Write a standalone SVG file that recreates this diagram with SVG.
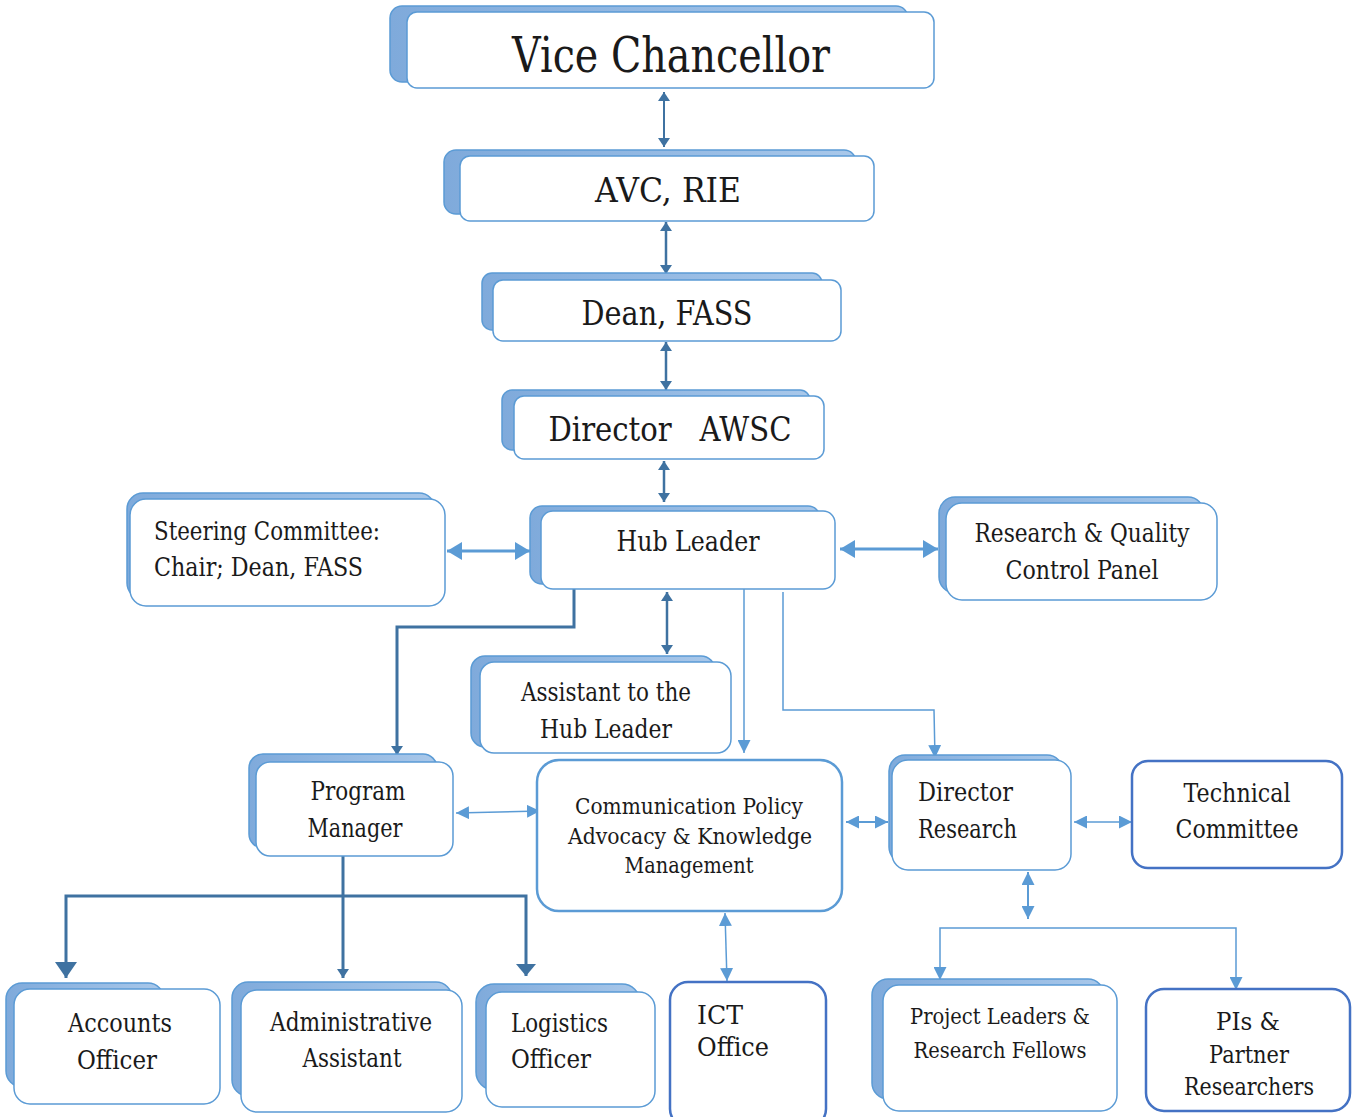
<svg xmlns="http://www.w3.org/2000/svg" width="1360" height="1117" viewBox="0 0 1360 1117">
<defs>
<linearGradient id="sg" x1="0" y1="0" x2="1" y2="0">
<stop offset="0" stop-color="#7faadb"/><stop offset="1" stop-color="#a9c8ea"/>
</linearGradient>
<marker id="md" viewBox="0 0 9 12" refX="9" refY="6" markerWidth="9" markerHeight="12" markerUnits="userSpaceOnUse" orient="auto-start-reverse"><path d="M0,0 L9,6 L0,12 z" fill="#3f72a1"/></marker>
<marker id="mdb" viewBox="0 0 16 22" refX="16" refY="11" markerWidth="16" markerHeight="22" markerUnits="userSpaceOnUse" orient="auto-start-reverse"><path d="M0,0 L16,11 L0,22 z" fill="#3f72a1"/></marker>
<marker id="mdm" viewBox="0 0 12 20" refX="12" refY="10" markerWidth="12" markerHeight="20" markerUnits="userSpaceOnUse" orient="auto-start-reverse"><path d="M0,0 L12,10 L0,20 z" fill="#3f72a1"/></marker>
<marker id="ml" viewBox="0 0 15 18" refX="15" refY="9" markerWidth="15" markerHeight="18" markerUnits="userSpaceOnUse" orient="auto-start-reverse"><path d="M0,0 L15,9 L0,18 z" fill="#5b9bd5"/></marker>
<marker id="mls" viewBox="0 0 13 13" refX="13" refY="6.5" markerWidth="13" markerHeight="13" markerUnits="userSpaceOnUse" orient="auto-start-reverse"><path d="M0,0 L13,6.5 L0,13 z" fill="#5b9bd5"/></marker>
</defs>
<style>
.sh{fill:url(#sg);stroke:#5b9bd5;stroke-width:1.5}
.bx{fill:#fff;stroke:#5b9bd5;stroke-width:1.5}
.bxl{fill:#fff;stroke:#5b9bd5;stroke-width:2.5}
.bxd{fill:#fff;stroke:#4472c4;stroke-width:2.5}
text{fill:#1a1a1a;font-family:"DejaVu Serif",serif}
.c{text-anchor:middle}
.dk{stroke:#3f72a1;fill:none}
.lt{stroke:#5b9bd5;fill:none}
</style>

<g id="connectors">
<line class="dk" x1="664" y1="92" x2="664" y2="147" stroke-width="2" marker-start="url(#md)" marker-end="url(#md)"/>
<line class="dk" x1="666" y1="222" x2="666" y2="274" stroke-width="2.5" marker-start="url(#md)" marker-end="url(#md)"/>
<line class="dk" x1="666" y1="342" x2="666" y2="390" stroke-width="2.5" marker-start="url(#md)" marker-end="url(#md)"/>
<line class="dk" x1="664" y1="461" x2="664" y2="502" stroke-width="2.5" marker-start="url(#md)" marker-end="url(#md)"/>
<line class="lt" x1="447" y1="551" x2="530" y2="551" stroke-width="3" marker-start="url(#ml)" marker-end="url(#ml)"/>
<line class="lt" x1="840" y1="549" x2="938" y2="549" stroke-width="3" marker-start="url(#ml)" marker-end="url(#ml)"/>
<line class="dk" x1="667" y1="592" x2="667" y2="654" stroke-width="2.5" marker-start="url(#md)" marker-end="url(#md)"/>
<polyline class="dk" points="574,589 574,627 397,627 397,755" stroke-width="3" marker-end="url(#md)"/>
<line class="lt" x1="744" y1="589" x2="744" y2="753" stroke-width="1.5" marker-end="url(#mls)"/>
<polyline class="lt" points="783,592 783,710 934,710 935,758" stroke-width="1.5" marker-end="url(#mls)"/>
<line class="lt" x1="456" y1="813" x2="540" y2="811" stroke-width="1.5" marker-start="url(#mls)" marker-end="url(#mls)"/>
<line class="lt" x1="846" y1="822" x2="888" y2="822" stroke-width="2" marker-start="url(#mls)" marker-end="url(#mls)"/>
<line class="lt" x1="1074" y1="822" x2="1132" y2="822" stroke-width="1.5" marker-start="url(#mls)" marker-end="url(#mls)"/>
<line class="lt" x1="1028" y1="872" x2="1028" y2="919" stroke-width="2" marker-start="url(#mls)" marker-end="url(#mls)"/>
<polyline class="lt" points="940,980 940,928 1236,928 1236,990" stroke-width="1.5" marker-start="url(#mls)" marker-end="url(#mls)"/>
<line class="lt" x1="725" y1="913" x2="727" y2="981" stroke-width="1.5" marker-start="url(#mls)" marker-end="url(#mls)"/>
<line class="dk" x1="343" y1="856" x2="343" y2="978" stroke-width="3" marker-end="url(#md)"/>
<polyline class="dk" points="66,978 66,896 526,896 526,976" stroke-width="3" marker-start="url(#mdb)" marker-end="url(#mdm)"/>
</g>

<g id="vice-chancellor">
<rect class="sh" x="390" y="6" width="518" height="76" rx="12"/>
<rect class="bx" x="407" y="12" width="527" height="76" rx="10"/>
<text class="c" x="671" y="72" font-size="48" textLength="318" lengthAdjust="spacingAndGlyphs">Vice Chancellor</text>
</g>
<g id="avc-rie">
<rect class="sh" x="444" y="150" width="412" height="64" rx="12"/>
<rect class="bx" x="460" y="156" width="414" height="65" rx="10"/>
<text class="c" x="668" y="202" font-size="34" textLength="146" lengthAdjust="spacingAndGlyphs">AVC, RIE</text>
</g>
<g id="dean-fass">
<rect class="sh" x="482" y="273" width="340" height="57" rx="10"/>
<rect class="bx" x="493" y="280" width="348" height="61" rx="10"/>
<text class="c" x="667" y="325" font-size="34" textLength="171" lengthAdjust="spacingAndGlyphs">Dean, FASS</text>
</g>
<g id="director-awsc">
<rect class="sh" x="502" y="390" width="308" height="60" rx="10"/>
<rect class="bx" x="514" y="396" width="310" height="63" rx="10"/>
<text class="c" x="670" y="441" font-size="34" xml:space="preserve" textLength="243" lengthAdjust="spacingAndGlyphs">Director   AWSC</text>
</g>
<g id="hub-leader">
<rect class="sh" x="530" y="506" width="290" height="78" rx="12"/>
<rect class="bx" x="541" y="511" width="294" height="78" rx="12"/>
<text class="c" x="688" y="551" font-size="28" textLength="143" lengthAdjust="spacingAndGlyphs">Hub Leader</text>
</g>
<g id="steering-committee">
<rect class="sh" x="127" y="493" width="308" height="106" rx="16"/>
<rect class="bx" x="130" y="499" width="315" height="107" rx="16"/>
<text x="154" y="540" font-size="26" textLength="226" lengthAdjust="spacingAndGlyphs">Steering Committee:</text>
<text x="154" y="576" font-size="26" textLength="209" lengthAdjust="spacingAndGlyphs">Chair; Dean, FASS</text>
</g>
<g id="research-quality-panel">
<rect class="sh" x="939" y="497" width="265" height="96" rx="16"/>
<rect class="bx" x="946" y="503" width="271" height="97" rx="16"/>
<text class="c" x="1082" y="542" font-size="26" textLength="215" lengthAdjust="spacingAndGlyphs">Research &amp; Quality</text>
<text class="c" x="1082" y="579" font-size="26" textLength="153" lengthAdjust="spacingAndGlyphs">Control Panel</text>
</g>
<g id="assistant-hub-leader">
<rect class="sh" x="471" y="656" width="244" height="91" rx="14"/>
<rect class="bx" x="480" y="662" width="251" height="91" rx="14"/>
<text class="c" x="606" y="701" font-size="26" textLength="170" lengthAdjust="spacingAndGlyphs">Assistant to the</text>
<text class="c" x="606" y="738" font-size="26" textLength="132" lengthAdjust="spacingAndGlyphs">Hub Leader</text>
</g>
<g id="program-manager">
<rect class="sh" x="249" y="754" width="188" height="94" rx="14"/>
<rect class="bx" x="256" y="762" width="197" height="94" rx="14"/>
<text class="c" x="358" y="800" font-size="26" textLength="95" lengthAdjust="spacingAndGlyphs">Program</text>
<text class="c" x="355" y="837" font-size="26" textLength="95" lengthAdjust="spacingAndGlyphs">Manager</text>
</g>
<g id="communication-policy">
<rect class="bxl" x="537" y="760" width="305" height="151" rx="22"/>
<text class="c" x="689" y="814" font-size="22" textLength="228" lengthAdjust="spacingAndGlyphs">Communication Policy</text>
<text class="c" x="690" y="844" font-size="22" textLength="244" lengthAdjust="spacingAndGlyphs">Advocacy &amp; Knowledge</text>
<text class="c" x="689" y="873" font-size="22" textLength="129" lengthAdjust="spacingAndGlyphs">Management</text>
</g>
<g id="director-research">
<rect class="sh" x="889" y="755" width="174" height="108" rx="16"/>
<rect class="bx" x="892" y="760" width="179" height="110" rx="16"/>
<text x="918" y="801" font-size="26" textLength="95" lengthAdjust="spacingAndGlyphs">Director</text>
<text x="918" y="838" font-size="26" textLength="99" lengthAdjust="spacingAndGlyphs">Research</text>
</g>
<g id="technical-committee">
<rect class="bxd" x="1132" y="761" width="210" height="107" rx="16"/>
<text class="c" x="1237" y="802" font-size="26" textLength="107" lengthAdjust="spacingAndGlyphs">Technical</text>
<text class="c" x="1237" y="838" font-size="26" textLength="123" lengthAdjust="spacingAndGlyphs">Committee</text>
</g>
<g id="project-leaders">
<rect class="sh" x="872" y="979" width="232" height="120" rx="16"/>
<rect class="bx" x="883" y="985" width="234" height="126" rx="16"/>
<text class="c" x="1000" y="1024" font-size="22" textLength="180" lengthAdjust="spacingAndGlyphs">Project Leaders &amp;</text>
<text class="c" x="1000" y="1058" font-size="22" textLength="173" lengthAdjust="spacingAndGlyphs">Research Fellows</text>
</g>
<g id="pis-partner-researchers">
<rect class="bxd" x="1146" y="989" width="204" height="122" rx="18"/>
<text class="c" x="1248" y="1030" font-size="24" textLength="64" lengthAdjust="spacingAndGlyphs">PIs &amp;</text>
<text class="c" x="1249" y="1063" font-size="24" textLength="80" lengthAdjust="spacingAndGlyphs">Partner</text>
<text class="c" x="1249" y="1095" font-size="24" textLength="130" lengthAdjust="spacingAndGlyphs">Researchers</text>
</g>
<g id="ict-office">
<rect class="bxd" x="670" y="982" width="156" height="145" rx="18"/>
<text x="697" y="1024" font-size="26" textLength="46" lengthAdjust="spacingAndGlyphs">ICT</text>
<text x="697" y="1056" font-size="26" textLength="72" lengthAdjust="spacingAndGlyphs">Office</text>
</g>
<g id="accounts-officer">
<rect class="sh" x="6" y="983" width="158" height="104" rx="16"/>
<rect class="bx" x="14" y="989" width="206" height="115" rx="16"/>
<text class="c" x="120" y="1032" font-size="26" textLength="104" lengthAdjust="spacingAndGlyphs">Accounts</text>
<text class="c" x="117" y="1069" font-size="26" textLength="80" lengthAdjust="spacingAndGlyphs">Officer</text>
</g>
<g id="administrative-assistant">
<rect class="sh" x="232" y="982" width="220" height="114" rx="16"/>
<rect class="bx" x="241" y="990" width="221" height="122" rx="16"/>
<text class="c" x="351" y="1031" font-size="26" textLength="162" lengthAdjust="spacingAndGlyphs">Administrative</text>
<text class="c" x="352" y="1067" font-size="26" textLength="99" lengthAdjust="spacingAndGlyphs">Assistant</text>
</g>
<g id="logistics-officer">
<rect class="sh" x="476" y="984" width="164" height="106" rx="18"/>
<rect class="bx" x="486" y="992" width="169" height="115" rx="16"/>
<text x="511" y="1032" font-size="26" textLength="97" lengthAdjust="spacingAndGlyphs">Logistics</text>
<text x="511" y="1068" font-size="26" textLength="80" lengthAdjust="spacingAndGlyphs">Officer</text>
</g>
</svg>
